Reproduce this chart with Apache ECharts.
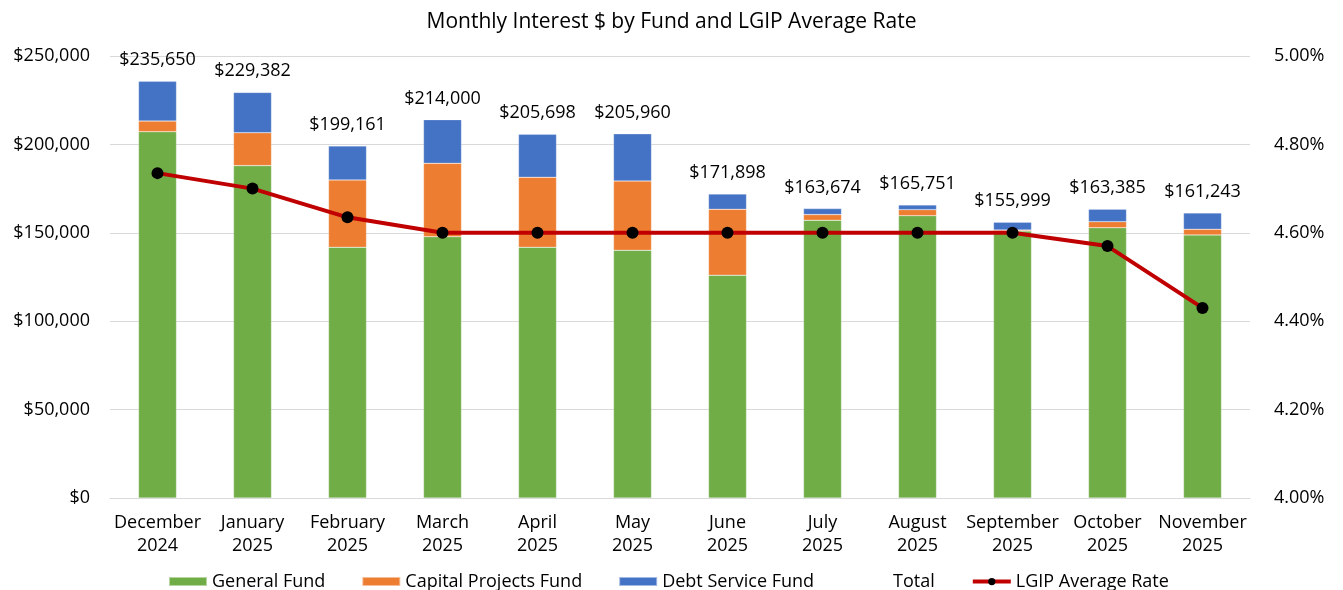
<html>
<head>
    <script src="https://cdn.jsdelivr.net/npm/echarts@6/dist/echarts.min.js"></script>
    <style>
        body { margin: 0; background: #fff; }
    </style>
</head>
<body>
    <div id="chart" style="width: 1343px;height:590px;"></div>
    <script>
        var months = ['December\n2024', 'January\n2025', 'February\n2025', 'March\n2025', 'April\n2025', 'May\n2025',
            'June\n2025', 'July\n2025', 'August\n2025', 'September\n2025', 'October\n2025', 'November\n2025'];
        var generalFund = [207200, 188000, 141800, 147800, 141800, 140100, 126000, 157100, 159700, 151000, 152900, 148800];
        var capitalProjects = [6000, 18600, 38100, 41500, 39600, 39200, 37300, 3200, 3400, 600, 3400, 3200];
        var debtService = [22450, 22782, 19261, 24700, 24298, 26660, 8598, 3374, 2651, 4399, 7085, 9243];
        var totals = [235650, 229382, 199161, 214000, 205698, 205960, 171898, 163674, 165751, 155999, 163385, 161243];
        var lgipRate = [4.735, 4.70, 4.635, 4.60, 4.60, 4.60, 4.60, 4.60, 4.60, 4.60, 4.57, 4.43];

        var font = 'Open Sans';

        function dollars(v) {
            return '$' + v.toLocaleString('en-US');
        }

        var option = {
            textStyle: { fontFamily: font },
            title: {
                text: 'Monthly Interest $ by Fund and LGIP Average Rate',
                left: 'center',
                top: 0,
                textStyle: { fontFamily: font, fontSize: 21, fontWeight: 'normal', color: '#000' }
            },
            legend: {
                top: 562,
                left: 163,
                itemWidth: 38,
                itemHeight: 9,
                itemGap: 36,
                textStyle: { fontFamily: font, fontSize: 18, color: '#000' },
                data: [
                    { name: 'General Fund', icon: 'rect' },
                    { name: 'Capital Projects Fund', icon: 'rect' },
                    { name: 'Debt Service Fund', icon: 'rect' },
                    { name: 'Total', icon: 'rect', itemStyle: { opacity: 0 } },
                    { name: 'LGIP Average Rate', lineStyle: { width: 4, color: '#c00000' } }
                ]
            },
            grid: { left: 110, right: 93, top: 56, bottom: 92 },
            xAxis: {
                type: 'category',
                data: months,
                axisLine: { lineStyle: { color: '#d9d9d9' } },
                axisTick: { show: false },
                axisLabel: { color: '#000', fontSize: 18, lineHeight: 23, margin: 13, interval: 0 }
            },
            yAxis: [{
                type: 'value',
                min: 0,
                max: 250000,
                interval: 50000,
                axisLabel: { color: '#000', fontSize: 18, margin: 20, formatter: dollars },
                splitLine: { lineStyle: { color: '#d9d9d9' } }
            }, {
                type: 'value',
                min: 4.0,
                max: 5.0,
                interval: 0.2,
                axisLabel: {
                    color: '#000', fontSize: 18, margin: 24,
                    formatter: function (v) { return v.toFixed(2) + '%'; }
                },
                splitLine: { show: false }
            }],
            series: [{
                name: 'General Fund',
                type: 'bar',
                stack: 'funds',
                barWidth: '40%',
                itemStyle: { color: '#70ad47', borderColor: 'rgba(255,255,255,0.5)', borderWidth: 0.5 },
                data: generalFund
            }, {
                name: 'Capital Projects Fund',
                type: 'bar',
                stack: 'funds',
                itemStyle: { color: '#ed7d31', borderColor: 'rgba(255,255,255,0.5)', borderWidth: 0.5 },
                data: capitalProjects
            }, {
                name: 'Debt Service Fund',
                type: 'bar',
                stack: 'funds',
                itemStyle: { color: '#4472c4', borderColor: 'rgba(255,255,255,0.5)', borderWidth: 0.5 },
                data: debtService
            }, {
                name: 'Total',
                type: 'line',
                symbol: 'circle',
                symbolSize: 1,
                itemStyle: { color: 'rgba(0,0,0,0)' },
                lineStyle: { opacity: 0 },
                label: {
                    show: true,
                    position: 'top',
                    distance: 6,
                    color: '#000',
                    fontSize: 18,
                    formatter: function (p) { return dollars(p.value); }
                },
                z: 5,
                data: totals
            }, {
                name: 'LGIP Average Rate',
                type: 'line',
                yAxisIndex: 1,
                symbol: 'circle',
                symbolSize: 12,
                itemStyle: { color: '#000' },
                lineStyle: { color: '#c00000', width: 4 },
                z: 10,
                data: lgipRate
            }]
        };

        var myChart = echarts.init(document.getElementById('chart'));
        myChart.setOption(option);
    </script>
</body>
</html>
